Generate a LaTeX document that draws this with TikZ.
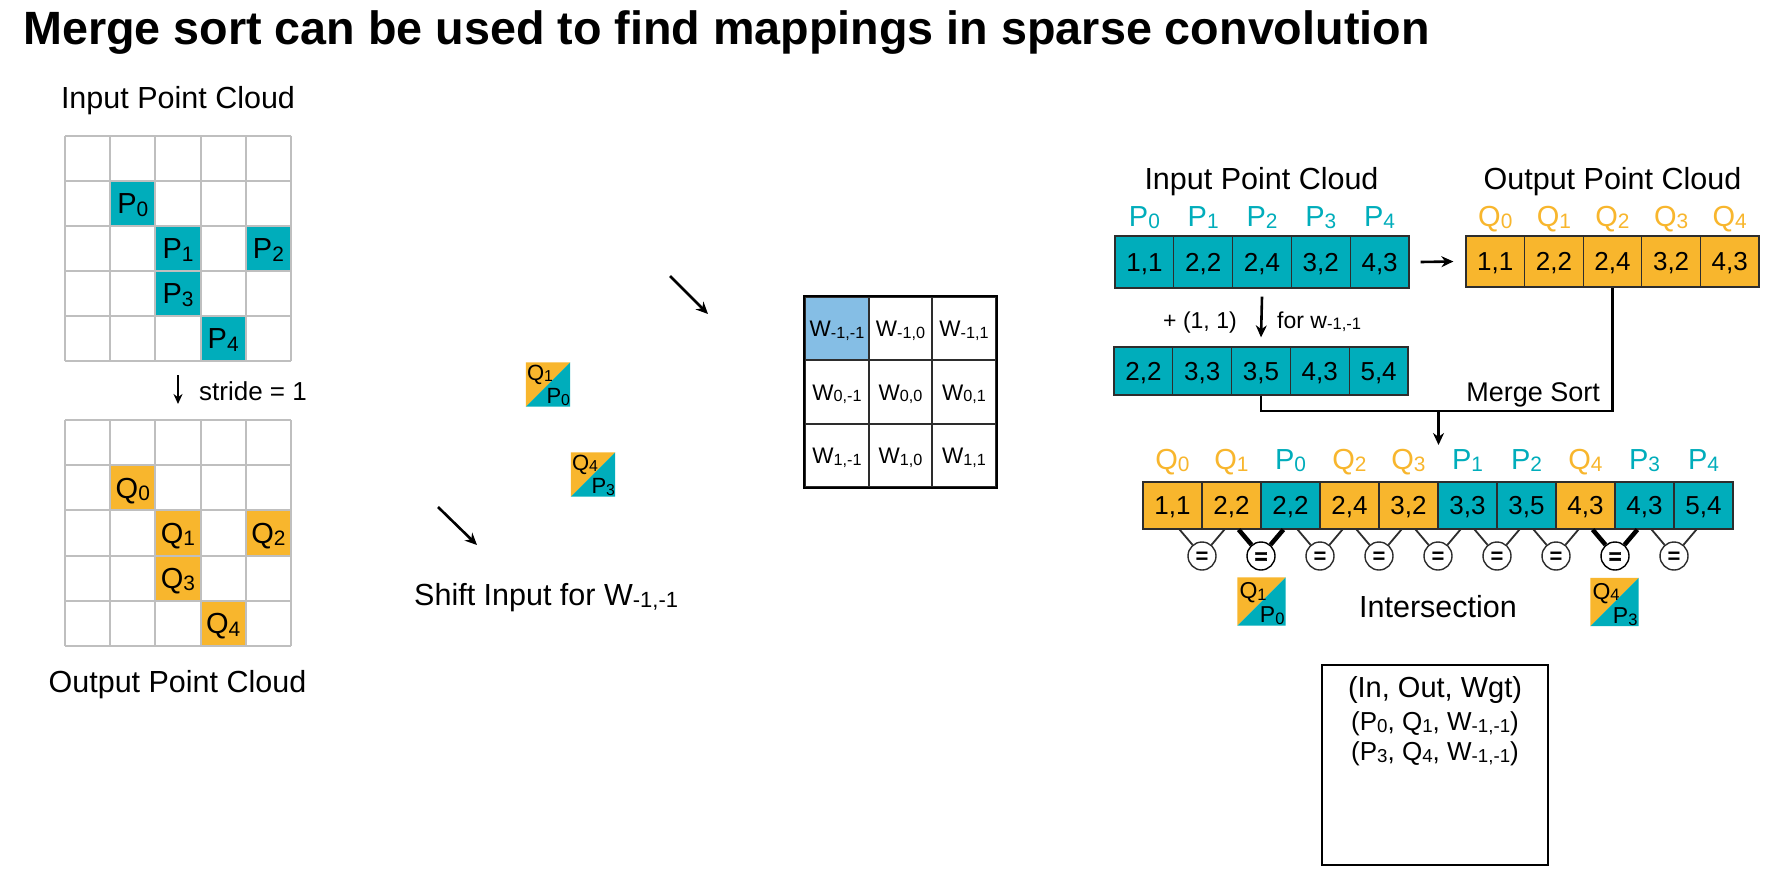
\documentclass[tikz,border=0pt]{standalone}
\usepackage{fontspec}
\setmainfont{Liberation Sans}
\newfontfamily\heavyfont[FakeBold=2]{Liberation Sans}
\usepackage{graphicx}
\usetikzlibrary{arrows.meta,calc}
\definecolor{cTeal}{RGB}{0,173,187}
\definecolor{cOrange}{RGB}{248,182,45}
\definecolor{cBlue}{RGB}{133,190,229}
\definecolor{cGrid}{RGB}{191,191,191}
\definecolor{cLine}{RGB}{45,45,45}
\newcommand{\fsz}[1]{\fontsize{#1pt}{#1pt}\selectfont}
\newcommand{\subs}[1]{\raisebox{-0.08em}{\scalebox{0.72}{#1}}}
\begin{document}
\begin{tikzpicture}[x=1pt,y=-1pt,
  gcell/.style={draw=cGrid,line width=2pt,minimum width=45.2pt,minimum height=45pt,inner sep=0pt,font=\fsz{29},text height=20.8pt,text depth=0pt},
  tcell/.style={draw=cLine,line width=1.3pt,minimum width=58.8pt,minimum height=52pt,inner sep=0pt,font=\fsz{26},text height=18.6pt,text depth=0pt},
  wcell/.style={draw=cLine,line width=1.5pt,minimum width=63.7pt,minimum height=63.3pt,inner sep=0pt,font=\fsz{22.5},text height=16pt,text depth=0pt},
  lbl/.style={inner sep=0pt,font=\fsz{29},anchor=base},
  txt/.style={inner sep=0pt,anchor=base},
  arr/.style={line width=2.6pt,-{Stealth[length=12pt,width=11pt]}},
  eqc/.style={circle,draw=cLine,line width=1.4pt,fill=white,minimum size=28pt,inner sep=0pt,font=\bfseries\fsz{22},text height=15.4pt,text depth=0pt},
  eqcb/.style={eqc,draw=black,font=\heavyfont\bfseries\fsz{22}},
  eql/.style={line width=1.8pt,draw=cLine},
  eqlb/.style={line width=4.5pt,draw=black},
  sq/.style={minimum size=#1,inner sep=0pt},
  sqtxt/.style={inner sep=0pt,font=\fsz{23}}
]
\useasboundingbox (0,0) rectangle (1766,872);
\fill[white] (0,0) rectangle (1766,872);

% title
\node[txt,anchor=base west,font=\bfseries\fsz{46.7}] (title) at (23,45) {Merge sort can be used to find mappings in sparse convolution};

% ---------- left grids ----------
\node[txt,font=\fsz{30.5}] (tinl) at (178,109) {Input Point Cloud};
\foreach \i in {0,...,5} {
  \draw[cGrid,line width=2pt] (65+\i*45.2,136) -- (65+\i*45.2,361);
  \draw[cGrid,line width=2pt] (65,136+\i*45) -- (291,136+\i*45);
}
\node[gcell,fill=cTeal] (gp0) at (132.8,203.5) {P\subs{0}};
\node[gcell,fill=cTeal] (gp1) at (178,248.5) {P\subs{1}};
\node[gcell,fill=cTeal] (gp2) at (268.4,248.5) {P\subs{2}};
\node[gcell,fill=cTeal] (gp3) at (178,293.5) {P\subs{3}};
\node[gcell,fill=cTeal] (gp4) at (223.2,338.5) {P\subs{4}};

\coordinate (sa) at (178,375);
\coordinate (se) at (178,404);
\draw[line width=2.2pt,-{Stealth[length=10pt,width=9pt]}] (sa) -- (se);
\node[txt,anchor=base west,font=\fsz{26}] (stride) at (199,400) {stride = 1};

\foreach \i in {0,...,5} {
  \draw[cGrid,line width=2pt] (65+\i*45.2,420) -- (65+\i*45.2,646);
  \draw[cGrid,line width=2pt] (65,420+\i*45.2) -- (291,420+\i*45.2);
}
\node[gcell,fill=cOrange,minimum height=45.2pt] (gq0) at (132.8,487.8) {Q\subs{0}};
\node[gcell,fill=cOrange,minimum height=45.2pt] (gq1) at (178,533) {Q\subs{1}};
\node[gcell,fill=cOrange,minimum height=45.2pt] (gq2) at (268.4,533) {Q\subs{2}};
\node[gcell,fill=cOrange,minimum height=45.2pt] (gq3) at (178,578.2) {Q\subs{3}};
\node[gcell,fill=cOrange,minimum height=45.2pt] (gq4) at (223.2,623.4) {Q\subs{4}};
\node[txt,font=\fsz{30.5}] (toutl) at (177.5,692) {Output Point Cloud};

% ---------- middle ----------
\coordinate (d1s) at (670,276);
\coordinate (d1e) at (708,314);
\draw[arr] (d1s) -- (d1e);
\coordinate (d2s) at (438,507);
\coordinate (d2e) at (477,545);
\draw[arr] (d2s) -- (d2e);

\node[sq=44pt] (s1) at (548,384.5) {};
\fill[cOrange] (s1.north west) -- (s1.north east) -- (s1.south west) -- cycle;
\fill[cTeal] (s1.north east) -- (s1.south east) -- (s1.south west) -- cycle;
\node[sqtxt,anchor=base west,font=\fsz{22}] (s1q) at ($(s1.west)+(1,-4.5)$) {Q\subs{1}};
\node[sqtxt,anchor=base east,font=\fsz{22}] (s1p) at ($(s1.south east)+(0,-3)$) {P\subs{0}};

\node[sq=44pt] (s2) at (593,474.5) {};
\fill[cOrange] (s2.north west) -- (s2.north east) -- (s2.south west) -- cycle;
\fill[cTeal] (s2.north east) -- (s2.south east) -- (s2.south west) -- cycle;
\node[sqtxt,anchor=base west,font=\fsz{22}] (s2q) at ($(s2.west)+(1,-4.5)$) {Q\subs{4}};
\node[sqtxt,anchor=base east,font=\fsz{22}] (s2p) at ($(s2.south east)+(0,-3)$) {P\subs{3}};

\node[txt,anchor=base west,font=\fsz{30.5}] (shift) at (414,605) {Shift Input for W\subs{-1,-1}};

% W grid
\node[wcell,fill=cBlue] (w11) at (837,328.5) {W\subs{-1,-1}};
\node[wcell] (w12) at (900.5,328.5) {W\subs{-1,0}};
\node[wcell] (w13) at (964,328.5) {W\subs{-1,1}};
\node[wcell] (w21) at (837,392) {W\subs{0,-1}};
\node[wcell] (w22) at (900.5,392) {W\subs{0,0}};
\node[wcell] (w23) at (964,392) {W\subs{0,1}};
\node[wcell] (w31) at (837,455.5) {W\subs{1,-1}};
\node[wcell] (w32) at (900.5,455.5) {W\subs{1,0}};
\node[wcell] (w33) at (964,455.5) {W\subs{1,1}};
\draw[black,line width=2pt] (w11.north west) rectangle (w33.south east);

% ---------- right ----------
\node[txt,font=\fsz{30.5}] (tinr) at (1261.5,189) {Input Point Cloud};
\node[txt,font=\fsz{30.5}] (toutr) at (1612.5,189) {Output Point Cloud};

\foreach \a/\b [count=\i] in {1/1,2/2,2/4,3/2,4/3} {
  \node[tcell,fill=cTeal] (in\i) at (1115+58.8*\i-29.4,262) {\a,\b};
  \pgfmathtruncatemacro\k{\i-1}
  \node[lbl,text=cTeal] (inl\i) at (1115+58.8*\i-29.4,226) {P\subs{\k}};
}
\foreach \a/\b [count=\i] in {1/1,2/2,2/4,3/2,4/3} {
  \node[tcell,fill=cOrange,minimum width=58.6pt,minimum height=51pt] (out\i) at (1466+58.6*\i-29.3,261.5) {\a,\b};
  \pgfmathtruncatemacro\k{\i-1}
  \node[lbl,text=cOrange] (outl\i) at (1466+58.6*\i-29.3,226) {Q\subs{\k}};
}
\draw[arr] ([xshift=11pt]in5.east) -- ([xshift=-12pt]out1.west);

\foreach \a/\b [count=\i] in {2/2,3/3,3/5,4/3,5/4} {
  \node[tcell,fill=cTeal,minimum height=48pt] (sh\i) at (1114+58.8*\i-29.4,371) {\a,\b};
}
\draw[arr] ([yshift=-8pt]in3.south) -- ([yshift=9pt]sh3.north);
\node[txt,anchor=base west,font=\fsz{23}] (plus) at (1163,328) {+ (1, 1)};
\node[txt,anchor=base west,font=\fsz{23}] (forw) at (1277,328) {for w\subs{-1,-1}};

\coordinate (mj) at (1438.5,411);
\coordinate (mt) at (1438.5,445);
\draw[line width=2.6pt] (sh3.south) |- (mj) -| (out3.south);
\draw[arr] (mj) -- (mt);
\node[txt,anchor=base east,font=\fsz{27}] (msort) at (1600,401) {Merge Sort};

\foreach \c/\L/\k/\a/\b [count=\i] in {cOrange/Q/0/1/1,cOrange/Q/1/2/2,cTeal/P/0/2/2,cOrange/Q/2/2/4,cOrange/Q/3/3/2,cTeal/P/1/3/3,cTeal/P/2/3/5,cOrange/Q/4/4/3,cTeal/P/3/4/3,cTeal/P/4/5/4} {
  \node[tcell,fill=\c,minimum width=59pt,minimum height=47pt] (m\i) at (1143+59*\i-29.5,505.5) {\a,\b};
  \node[lbl,text=\c] (ml\i) at (1143+59*\i-29.5,469) {\L\subs{\k}};
}
\foreach \i/\s/\t in {1/eql/eqc,2/eqlb/eqcb,3/eql/eqc,4/eql/eqc,5/eql/eqc,6/eql/eqc,7/eql/eqc,8/eqlb/eqcb,9/eql/eqc} {
  \pgfmathtruncatemacro\j{\i+1}
  \node[\t] (e\i) at (1143+59*\i,556) {=};
  \draw[\s] ([xshift=-23pt]m\i.south east) -- (e\i);
  \draw[\s] ([xshift=23pt]m\j.south west) -- (e\i);
}

\node[sq=48pt] (x1) at (1261.5,601.5) {};
\fill[cOrange] (x1.north west) -- (x1.north east) -- (x1.south west) -- cycle;
\fill[cTeal] (x1.north east) -- (x1.south east) -- (x1.south west) -- cycle;
\node[sqtxt,anchor=base west] (x1q) at ($(x1.west)+(2,-3)$) {Q\subs{1}};
\node[sqtxt,anchor=base east] (x1p) at ($(x1.south east)+(-1,-3)$) {P\subs{0}};

\node[sq=48pt] (x2) at (1614.5,602) {};
\fill[cOrange] (x2.north west) -- (x2.north east) -- (x2.south west) -- cycle;
\fill[cTeal] (x2.north east) -- (x2.south east) -- (x2.south west) -- cycle;
\node[sqtxt,anchor=base west] (x2q) at ($(x2.west)+(2,-3)$) {Q\subs{4}};
\node[sqtxt,anchor=base east] (x2p) at ($(x2.south east)+(-1,-3)$) {P\subs{3}};

\node[txt,font=\fsz{30.5}] (inter) at (1438,617) {Intersection};

% result box
\node[draw=black,line width=2pt,minimum width=226pt,minimum height=200pt,inner sep=0pt] (res) at (1435,765) {};
\node[txt,font=\fsz{29}] (r1) at (1435,697) {(In, Out, Wgt)};
\node[txt,font=\fsz{26}] (r2) at (1435,730) {(P\subs{0}, Q\subs{1}, W\subs{-1,-1})};
\node[txt,font=\fsz{26}] (r3) at (1435,760) {(P\subs{3}, Q\subs{4}, W\subs{-1,-1})};
\end{tikzpicture}
\end{document}
